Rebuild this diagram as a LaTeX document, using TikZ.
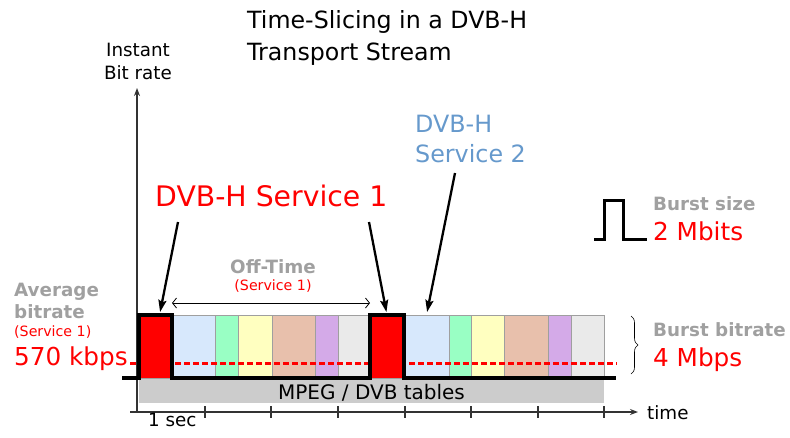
\documentclass[tikz,border=0pt]{standalone}
\usepackage{fontspec}
\setmainfont{DejaVu Sans}
\usetikzlibrary{arrows.meta,decorations.pathreplacing}

\definecolor{burstred}{RGB}{255,0,0}
\definecolor{svcblue}{RGB}{102,153,204}
\definecolor{softgray}{RGB}{160,160,160}
\definecolor{axisgray}{RGB}{51,51,51}
\definecolor{slotblue}{RGB}{215,232,252}
\definecolor{slotgreen}{RGB}{153,255,196}
\definecolor{slotyellow}{RGB}{255,255,192}
\definecolor{slotsalmon}{RGB}{232,192,172}
\definecolor{slotpurple}{RGB}{212,170,232}
\definecolor{slotgrey}{RGB}{234,234,234}

\tikzset{
  txt/.style={inner sep=0, anchor=base west},
  title/.style={txt, font=\fontsize{23.7}{28}\selectfont},
  axistxt/.style={txt, anchor=base, font=\fontsize{18.3}{22}\selectfont},
  svcbig/.style={txt, text=burstred, font=\fontsize{28.3}{34}\selectfont},
  svcsmall/.style={txt, text=svcblue, font=\fontsize{23.8}{28}\selectfont},
  grayhead/.style={txt, text=softgray, font=\fontsize{18.3}{22}\selectfont\bfseries},
  redsmall/.style={txt, text=burstred, font=\fontsize{14.2}{17}\selectfont},
  redvalue/.style={txt, text=burstred, font=\fontsize{24.7}{30}\selectfont},
  slot/.style={draw=gray!75, line width=0.8, inner sep=0, outer sep=0,
    anchor=north west, minimum height=63pt},
  tables/.style={fill=gray!40, inner sep=0, outer sep=0, anchor=north west,
    minimum width=465pt, minimum height=25pt, text height=17.5pt, text depth=0pt,
    font=\fontsize{20}{24}\selectfont},
  axis/.style={axisgray, line width=1.8, -{Stealth[length=8pt,width=6pt]}},
  profile/.style={line width=4},
  avgline/.style={burstred, line width=3, dash pattern=on 5.5pt off 3.5pt},
  pointer/.style={line width=2.3, -{Stealth[length=12pt,width=8pt,inset=2pt]}, shorten >=3pt},
  offarrow/.style={line width=0.8, {Straight Barb[length=4pt,width=10pt]}-{Straight Barb[length=4pt,width=10pt]}},
  pulse/.style={line width=3}
}

\begin{document}
\begin{tikzpicture}[x=1pt, y=-1pt]
\useasboundingbox (0,0) rectangle (790,437);

% title
\node[title] (title1) at (247,28.5) {Time-Slicing in a DVB-H};
\node[title] (title2) at (247,60) {Transport Stream};

% axes
\node[axistxt] (ylab1) at (138,56.7) {Instant};
\node[axistxt] (ylab2) at (138,79) {Bit rate};
\coordinate (ybot) at (137,412);
\coordinate (ytop) at (137,88);
\coordinate (xleft) at (130,412);
\coordinate (xright) at (638,412);
\draw[axis] (ybot) -- (ytop);
\draw[axis] (xleft) -- (xright);
\foreach \t in {205,271,338,405,471,538,604}
  \draw[axisgray, line width=1.3] (\t,406) -- (\t,418);
\node[axistxt, anchor=base west] (timelab) at (647,419) {time};
\node[axistxt, anchor=base west] (seclab) at (148,426) {1 sec};

% slots
\node[tables] (tables) at (139,378) {MPEG / DVB tables};
\foreach \n/\x/\w/\c in {burst1/139/33/burstred, blueA/172/43/slotblue,
    greenA/215/23/slotgreen, yellowA/238/34/slotyellow, salmonA/272/43/slotsalmon,
    purpleA/315/23/slotpurple, greyA/338/32/slotgrey, burst2/370/34/burstred,
    blueB/404/45/slotblue, greenB/449/22/slotgreen, yellowB/471/33/slotyellow,
    salmonB/504/44/slotsalmon, purpleB/548/23/slotpurple, greyB/571/33/slotgrey}
  \node[slot, fill=\c, minimum width=\w pt] (\n) at (\x,315) {};

% average and burst profile
\draw[avgline] (130,363) -- (617,363);
\draw[profile] (122,378) -- (burst1.south west) -- (burst1.north west)
  -- (burst1.north east) -- (burst1.south east) -- (burst2.south west)
  -- (burst2.north west) -- (burst2.north east) -- (burst2.south east) -- (616,378);

% off time
\draw[offarrow] ([yshift=12pt]burst1.north east) -- ([yshift=12pt]burst2.north west);
\node[grayhead, anchor=base] (offtime) at (273,273.5) {Off-Time};
\node[redsmall, anchor=base] (offsvc) at (273,290) {(Service 1)};

% services
\node[svcbig] (svc1) at (155,206.7) {DVB-H Service 1};
\node[svcsmall] (svc2a) at (415,132.3) {DVB-H};
\node[svcsmall] (svc2b) at (415,162.7) {Service 2};
\coordinate (svc1l) at (178,222);
\coordinate (svc1r) at (369,222);
\coordinate (svc2) at (455,173);
\draw[pointer] (svc1l) -- ([xshift=4pt]burst1.north);
\draw[pointer] (svc1r) -- (burst2.north);
\draw[pointer] (svc2) -- (blueB.north);

% burst size
\draw[pulse] (594,239) -- (604,239) -- (604,200) -- (623,200) -- (623,239) -- (647,239);
\node[grayhead] (bsize) at (653,210.7) {Burst size};
\node[redvalue] (bsizeval) at (653,240) {2 Mbits};

% burst bitrate
\draw[decorate, decoration={brace, amplitude=7pt}, line width=0.6] (631,316) -- (631,374);
\node[grayhead] (brate) at (653,336.7) {Burst bitrate};
\node[redvalue] (brateval) at (653,366.7) {4 Mbps};

% average bitrate
\node[grayhead] (avg1) at (14,296.7) {Average};
\node[grayhead] (avg2) at (14,318.3) {bitrate};
\node[redsmall] (avgsvc) at (14,336) {(Service 1)};
\node[redvalue] (avgval) at (14,365.7) {570 kbps};
\end{tikzpicture}
\end{document}
